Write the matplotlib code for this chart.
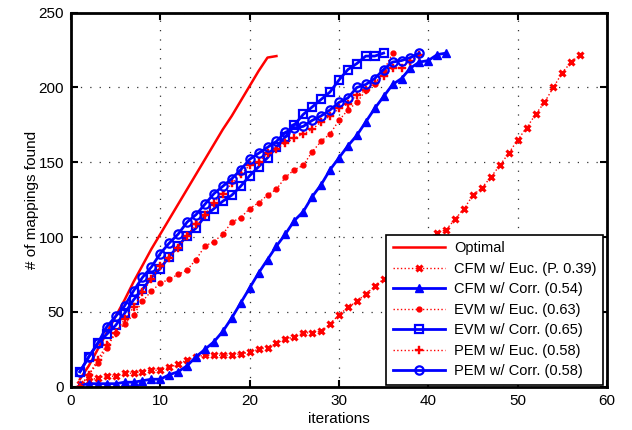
import matplotlib
matplotlib.use("Agg")
import matplotlib.pyplot as plt

plt.rcParams['font.family'] = ['Liberation Sans', 'DejaVu Sans']

# ---- data ----
opt_x = list(range(1, 24))
opt_y = [5, 14, 25, 36, 47, 58, 70, 81, 92, 102, 112, 122, 132, 142, 152, 162,
         172, 181, 191, 201, 211, 220, 221]

cfm_euc_x = list(range(1, 58))
cfm_euc_y = [2, 4, 6, 7, 7, 9, 9, 10, 11, 11, 13, 15, 18, 20, 21, 21, 21, 21,
             22, 23, 25, 26, 29, 32, 33, 36, 36, 37, 42, 48, 53, 57, 62, 67,
             72, 77, 83, 88, 94, 99, 103, 105, 112, 119, 128, 133, 140, 148,
             156, 165, 173, 182, 190, 200, 210, 217, 222]

cfm_corr_x = list(range(1, 43))
cfm_corr_y = [1, 2, 2, 2, 2, 3, 3, 4, 5, 5, 8, 10, 14, 20, 25, 30, 37, 46, 56,
              66, 76, 85, 94, 102, 111, 117, 127, 135, 145, 153, 161, 168,
              177, 186, 194, 202, 206, 213, 217, 218, 222, 223]

evm_euc_x = list(range(1, 37))
evm_euc_y = [0, 8, 16, 26, 36, 42, 48, 57, 64, 69, 72, 75, 78, 85, 94, 97,
             102, 110, 113, 119, 123, 128, 132, 140, 145, 148, 157, 164, 169,
             178, 185, 190, 198, 202, 211, 223]

evm_corr_x = list(range(1, 36))
evm_corr_y = [10, 20, 29, 35, 41, 49, 58, 65, 73, 79, 87, 94, 101, 106, 114,
              119, 124, 128, 134, 141, 147, 153, 160, 167, 175, 182, 187, 192,
              197, 205, 212, 216, 221, 221, 223]

pem_euc_x = list(range(1, 40))
pem_euc_y = [0, 8, 18, 28, 36, 45, 53, 63, 72, 81, 86, 93, 101, 109, 115, 123,
             129, 136, 142, 148, 150, 156, 159, 163, 166, 169, 172, 177, 181,
             186, 189, 195, 198, 203, 208, 213, 213, 218, 222]

pem_corr_x = list(range(1, 40))
pem_corr_y = [10, 20, 29, 40, 47, 54, 64, 73, 80, 89, 96, 102, 110, 115, 122,
              129, 134, 139, 145, 152, 156, 160, 164, 170, 173, 174, 178, 181,
              185, 190, 193, 200, 202, 206, 212, 217, 218, 220, 223]

labels = ['Optimal', 'CFM w/ Euc. (P. 0.39)', 'CFM w/ Corr. (0.54)',
          'EVM w/ Euc. (0.63)', 'EVM w/ Corr. (0.65)', 'PEM w/ Euc. (0.58)',
          'PEM w/ Corr. (0.58)']

x_ticks = [0, 10, 20, 30, 40, 50, 60]
y_ticks = [0, 50, 100, 150, 200, 250]

R = '#ff0000'
B = '#0000ff'

fig = plt.figure(figsize=(6.32, 4.30), dpi=100)
ax = fig.add_axes([0.1123, 0.1007, 0.8481, 0.8698])

ax.plot(opt_x, opt_y, '-', color=R, lw=1.8, label=labels[0])
ax.plot(cfm_euc_x, cfm_euc_y, ':', color=R, lw=1.0, marker='x', ms=4.5, mew=2.2,
        label=labels[1])
ax.plot(cfm_corr_x, cfm_corr_y, '-', color=B, lw=2.0, marker='^', ms=6,
        mfc=B, mec=B, label=labels[2])
ax.plot(evm_euc_x, evm_euc_y, ':', color=R, lw=1.0, marker='o', ms=3.5,
        mfc=R, mec=R, label=labels[3])
ax.plot(evm_corr_x, evm_corr_y, '-', color=B, lw=2.0, marker='s', ms=6,
        mfc='none', mec=B, mew=1.6, label=labels[4])
ax.plot(pem_euc_x, pem_euc_y, ':', color=R, lw=1.0, marker='P', ms=6,
        mfc=R, mec=R, mew=0.3, label=labels[5])
ax.plot(pem_corr_x, pem_corr_y, '-', color=B, lw=2.0, marker='o', ms=6,
        mfc='none', mec=B, mew=1.6, label=labels[6])

ax.set_xlim(0, 60)
ax.set_ylim(0, 250)
ax.set_xticks(x_ticks)
ax.set_yticks(y_ticks)
ax.tick_params(direction='in', top=True, right=True, length=5, width=1.5,
               labelsize=11, pad=5)
ax.grid(True, color='#333333', linestyle=(0, (1, 6.5)), lw=0.9)
for s in ax.spines.values():
    s.set_linewidth(2.0)
ax.set_xlabel('iterations', fontsize=11, labelpad=3)
ax.set_ylabel('# of mappings found', fontsize=11, labelpad=0)

leg = ax.legend(loc='lower right', bbox_to_anchor=(0.9925, 0.0045),
                borderaxespad=0, fontsize=10.5, handlelength=3.6,
                labelspacing=0.45, fancybox=False, framealpha=1,
                edgecolor='black', borderpad=0.45, handletextpad=0.6)
leg.get_frame().set_linewidth(1.2)

fig.savefig('out.png', dpi=100)
